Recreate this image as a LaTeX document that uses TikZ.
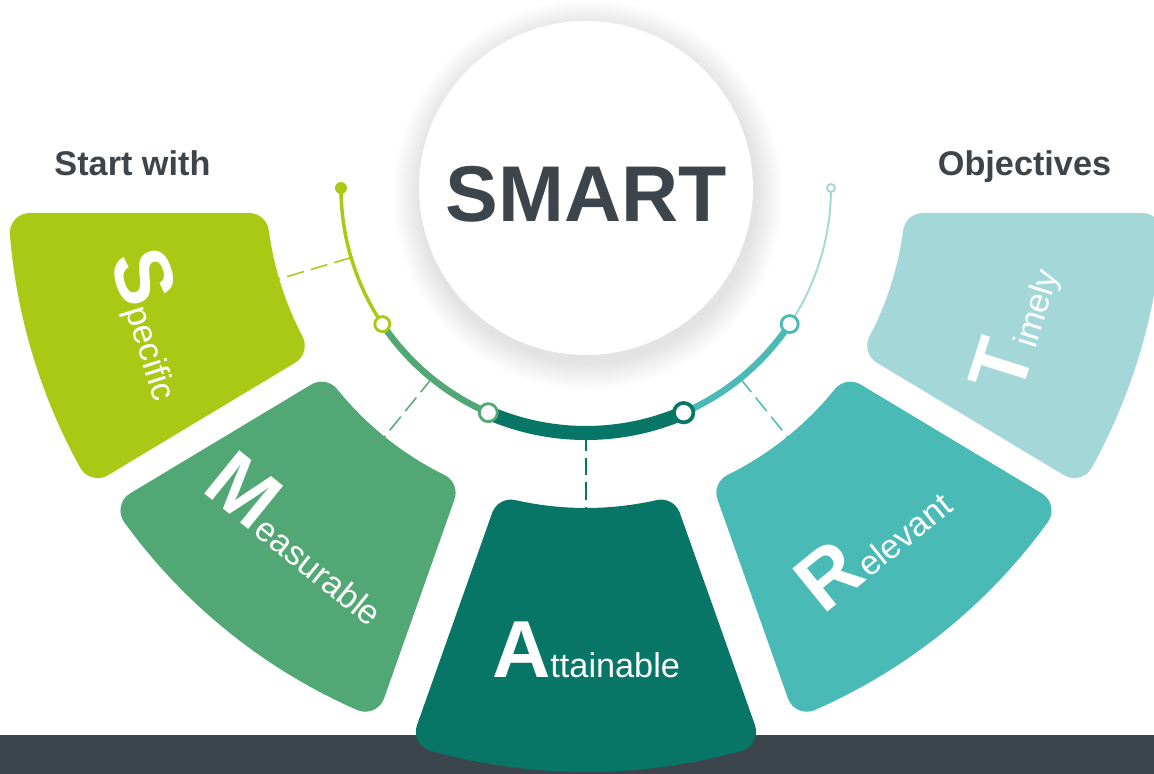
\documentclass[tikz,border=0pt]{standalone}
\usepackage{fontspec}
\setmainfont{Liberation Sans}
\usepackage{tikz}
\usepackage{xcolor}
\definecolor{smartlime}{RGB}{170,201,21}
\definecolor{smartgreen}{RGB}{82,168,116}
\definecolor{smartdark}{RGB}{7,118,103}
\definecolor{smartteal}{RGB}{74,186,183}
\definecolor{smartlight}{RGB}{164,216,216}
\definecolor{smartgray}{RGB}{61,69,76}
\tikzset{
    smart-circle/.style = {circle, fill=white, inner sep=0pt, minimum size=6.68cm},
    smart-title/.style = {text=smartgray, anchor=base, inner sep=0pt, font=\fontsize{45}{45}\selectfont\bfseries},
    heading/.style = {text=smartgray, anchor=base, inner sep=0pt, font=\fontsize{19.5}{20}\selectfont\bfseries},
    petal/.style = {fill=#1, draw=#1, line width=0.8cm, line join=round},
    petal-label/.style = {text=white, anchor=base, inner sep=0pt, font=\fontsize{19.5}{20}\selectfont},
    link/.style = {draw=#1, line width=0.85pt, dash pattern=on 10pt off 4pt},
    marker/.style = {circle, draw=#1, fill=white, inner sep=0pt, line width=1.6pt},
}
\newcommand{\bigletter}[1]{{\fontsize{46}{46}\selectfont\bfseries #1}}
% #1 colour, #2/#3 first side angle/offset, #4/#5 second side angle/offset, #6 outer radius
\newcommand{\smartpetal}[6]{%
    \pgfmathsetmacro{\ri}{320+20}
    \pgfmathsetmacro{\ro}{#6-20}
    \pgfmathsetmacro{\aI}{#2+asin((#3+20)/\ri)}
    \pgfmathsetmacro{\aO}{#2+asin((#3+20)/\ro)}
    \pgfmathsetmacro{\bO}{#4-asin((#5+20)/\ro)}
    \pgfmathsetmacro{\bI}{#4-asin((#5+20)/\ri)}
    \path[petal=#1] (\aI:\ri) -- (\aO:\ro) arc[start angle=\aO, end angle=\bO, radius=\ro]
        -- (\bI:\ri) arc[start angle=\bI, end angle=\aI, radius=\ri] -- cycle;
}

\begin{document}
\begin{tikzpicture}[x=0.02cm, y=0.02cm]
\useasboundingbox (-586,-586) rectangle (568,188);

\foreach \k in {1,...,14}
    \fill[black, opacity=0.009] (2,-7) circle[radius=167+2*\k];
\node[smart-circle] (smart) at (0,0) {};
\node[smart-title] (smart-text) at (0,-34) {SMART};

\node[heading] (start) at (-453.5,12) {Start with};
\node[heading] (goal) at (438.5,12) {Objectives};

\foreach \n/\a/\c in {spec/196.5/smartlime, meas/231/smartgreen, atta/270/smartdark, rele/309/smartteal} {
    \coordinate (\n-arc) at (\a:245);
    \coordinate (\n-in) at (\a:324);
    \draw[link=\c] (\n-arc) -- (\n-in);
}

\foreach \a/\b/\c/\w in {180/213.75/smartlime/2pt, 213.75/246.5/smartgreen/3.7pt, 246.5/293.5/smartdark/8pt, 293.5/326.25/smartteal/3.7pt, 326.25/360/smartlight/1.1pt}
    \draw[\c, line width=\w] (\a:245) arc[start angle=\a, end angle=\b, radius=245];

\node[circle, fill=smartlime, inner sep=0pt, minimum size=0.24cm] (end-left) at (180:245) {};
\node[marker=smartlight, line width=1.1pt, minimum size=0.16cm] (end-right) at (0:245) {};
\node[marker=smartlime, minimum size=0.3cm] (m-spec) at (213.75:245) {};
\node[marker=smartgreen, minimum size=0.36cm] (m-meas) at (246.5:245) {};
\node[marker=smartdark, line width=2.1pt, minimum size=0.39cm] (m-atta) at (293.5:245) {};
\node[marker=smartteal, minimum size=0.34cm] (m-rele) at (326.25:245) {};

\fill[smartgray] (-586,-547) rectangle (568,-586);

\smartpetal{smartlime}{180}{25}{211}{0}{578}
\smartpetal{smartgreen}{211}{27}{250.5}{20}{570}
\smartpetal{smartdark}{250.5}{20}{289.5}{20}{584}
\smartpetal{smartteal}{289.5}{20}{329}{27}{570}
\smartpetal{smartlight}{329}{0}{360}{25}{578}

\node[petal-label, rotate=-72.5] (spec-label) at (197.5:476) {\bigletter{S}pecific};
\node[petal-label, rotate=-39] (meas-label) at (231:478) {\bigletter{M}easurable};
\node[petal-label] (atta-label) at (270:489) {\bigletter{A}ttainable};
\node[petal-label, rotate=39] (rele-label) at (309:482) {\bigletter{R}elevant};
\node[petal-label, rotate=72.5] (time-label) at (342:477) {\bigletter{T}imely};
\end{tikzpicture}
\end{document}
